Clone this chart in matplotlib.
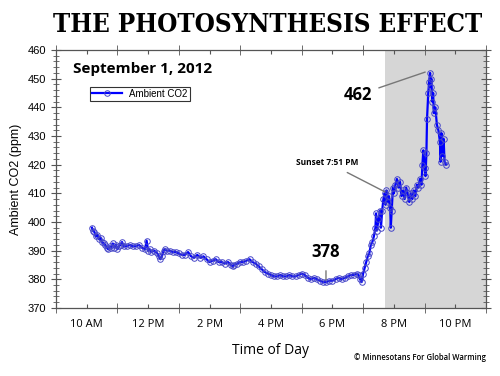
import numpy as np
import matplotlib.pyplot as plt
from matplotlib.ticker import MultipleLocator, FixedLocator

# time of day in decimal hours, CO2 in ppm
hours = [10.17, 10.2, 10.25, 10.3, 10.35, 10.4, 10.45, 10.5, 10.55, 10.6, 10.65, 10.7, 10.75, 10.8,
         10.85, 10.9, 10.95, 11.0, 11.05, 11.1, 11.15, 11.2, 11.3, 11.4, 11.5, 11.6, 11.7, 11.8,
         11.9, 11.95, 12.0, 12.05, 12.1, 12.2, 12.3, 12.35, 12.4, 12.45, 12.5, 12.55, 12.6, 12.7,
         12.8, 12.9, 13.0, 13.1, 13.2, 13.3, 13.4, 13.5, 13.6, 13.7, 13.8, 13.9, 14.0, 14.1, 14.2,
         14.3, 14.4, 14.5, 14.6, 14.7, 14.75, 14.8, 14.9, 15.0, 15.1, 15.2, 15.3, 15.4, 15.5, 15.6,
         15.7, 15.8, 15.9, 16.0, 16.1, 16.2, 16.3, 16.4, 16.5, 16.6, 16.7, 16.8, 16.9, 17.0, 17.1,
         17.2, 17.3, 17.4, 17.5, 17.6, 17.7, 17.8, 17.9, 18.0, 18.1, 18.2, 18.3, 18.4, 18.5, 18.6,
         18.7, 18.8, 18.85, 18.9, 18.95, 19.0, 19.05, 19.1, 19.15, 19.2, 19.25, 19.3, 19.35, 19.4,
         19.42, 19.45, 19.5, 19.55, 19.58, 19.62, 19.66, 19.7, 19.73, 19.76, 19.8, 19.84, 19.88,
         19.9, 19.93, 19.97, 20.0, 20.05, 20.1, 20.15, 20.2, 20.25, 20.3, 20.35, 20.4, 20.45, 20.5,
         20.55, 20.6, 20.65, 20.7, 20.75, 20.8, 20.85, 20.9, 20.93, 20.96, 21.0, 21.03, 21.06,
         21.08, 21.12, 21.15, 21.18, 21.2, 21.22, 21.25, 21.28, 21.3, 21.35, 21.4, 21.45, 21.5,
         21.52, 21.55, 21.58, 21.62, 21.65, 21.7]
co2 = [398, 397, 396.5, 395, 395.5, 394, 394.5, 393, 392.5, 392, 391, 390.5, 391.5, 391,
       392.5, 391, 392, 390.5, 391.5, 392, 393, 391.5, 391.5, 392, 391.5, 391.5, 392, 391,
       390.5, 393.5, 390, 390.5, 389.5, 390, 389, 388, 387, 388, 390, 390.5, 390, 390,
       389.5, 389.5, 389, 388.5, 388.5, 389.5, 388, 387.5, 388.5, 387.5, 388, 387, 386, 386.5, 387,
       386, 386, 385.5, 386, 385, 384.5, 385, 385.5, 386, 386, 386.5, 387, 386, 385.5, 384.5,
       383.5, 382.5, 382, 381.5, 381, 381, 381.5, 381, 381, 381.5, 381, 381, 381.5, 382, 381.5,
       380.5, 380, 380.5, 380, 379.5, 379, 379, 379.5, 379.5, 380, 380.5, 380, 380.5, 381, 381.5,
       381.5, 382, 381.5, 380, 379, 382, 384, 386, 388, 389, 392, 393, 395, 398,
       403, 397, 401, 404, 398, 404, 408, 410, 406, 411, 407, 409, 405,
       398, 404, 412, 410, 413, 415, 412, 414, 409, 411, 408, 412, 410, 407,
       410, 408, 411, 409, 413, 412, 415, 413, 420, 425, 419, 416, 424,
       436, 445, 449, 452, 447, 450, 442, 445, 438, 440, 434, 432, 428,
       421, 431, 423, 429, 421, 420]

x_ticks = [10, 12, 14, 16, 18, 20, 22]
x_labels = ['10 AM', '12 PM', '2 PM', '4 PM', '6 PM', '8 PM', '10 PM']
night_start = 19.72

fig = plt.figure(figsize=(5, 3.76), dpi=100)
ax = fig.add_axes([0.112, 0.181, 0.86, 0.686])

ax.axvspan(night_start, 23, color='#d6d6d6', zorder=0, lw=0)
ax.plot(hours, co2, color='#0000ff', lw=1.6, marker='o', ms=4, mfc='none',
        mec='#4848c8', mew=0.7, label='Ambient CO2', zorder=3)

ax.set_xlim(9, 23)
ax.set_ylim(370, 460)
ax.xaxis.set_major_locator(FixedLocator(x_ticks))
ax.set_xticklabels(x_labels, fontfamily='Open Sans', fontsize=8)
ax.xaxis.set_minor_locator(FixedLocator(range(9, 24, 2)))
ax.yaxis.set_major_locator(MultipleLocator(10))
ax.yaxis.set_minor_locator(MultipleLocator(2))
for lab in ax.get_yticklabels():
    lab.set_fontfamily('Liberation Sans')
    lab.set_fontsize(8)
ax.tick_params(axis='x', which='major', direction='in', length=3, top=True, color='#555555', pad=8)
ax.tick_params(axis='x', which='minor', direction='inout', length=7, top=True, color='#555555')
ax.tick_params(axis='y', which='major', direction='inout', length=7, right=True, color='#555555')
ax.tick_params(axis='y', which='minor', direction='inout', length=4, right=True, color='#555555')
for s in ax.spines.values():
    s.set_color('#555555')
    s.set_linewidth(0.9)

ax.set_xlabel('Time of Day', fontfamily='Open Sans', fontsize=10, labelpad=9)
ax.set_ylabel('Ambient CO2 (ppm)', fontfamily='Liberation Sans', fontsize=9)

leg = ax.legend(loc='upper left', bbox_to_anchor=(0.08, 0.857), frameon=True,
                fancybox=False, borderpad=0.2, handlelength=3, borderaxespad=0,
                prop={'family': 'Liberation Sans', 'size': 7})
leg.get_frame().set_edgecolor('black')
leg.get_frame().set_linewidth(0.8)

ax.text(0.04, 0.925, 'September 1, 2012', transform=ax.transAxes, fontfamily='Open Sans',
        fontweight='bold', fontsize=11, va='center')

# annotations
ax.annotate('462', xy=(21.02, 452.3), xytext=(18.83, 444.3), fontfamily='Open Sans',
            fontweight='bold', fontsize=12, ha='center', va='center',
            arrowprops=dict(arrowstyle='-', color='#777777', lw=1, shrinkA=3, shrinkB=0))
ax.annotate('Sunset 7:51 PM', xy=(19.71, 410.5), xytext=(17.82, 420.9), fontfamily='Open Sans',
            fontweight='bold', fontsize=6, ha='center', va='center',
            arrowprops=dict(arrowstyle='-', color='#777777', lw=1, shrinkA=5, shrinkB=0))
ax.annotate('378', xy=(17.79, 379.8), xytext=(17.79, 389.5), fontfamily='Open Sans',
            fontweight='bold', fontsize=12, ha='center', va='center',
            arrowprops=dict(arrowstyle='-', color='#777777', lw=1, shrinkA=5, shrinkB=0))

fig.text(0.535, 0.936, 'THE PHOTOSYNTHESIS EFFECT', ha='center', va='center',
         fontfamily='DejaVu Serif', fontweight='heavy', fontstretch='condensed', fontsize=18.5)
fig.text(0.972, 0.048, '\u00a9 Minnesotans For Global Warming', ha='right', va='center',
         fontfamily='Open Sans', fontweight='semibold', fontsize=5.5)

fig.savefig('out.png', dpi=100)
